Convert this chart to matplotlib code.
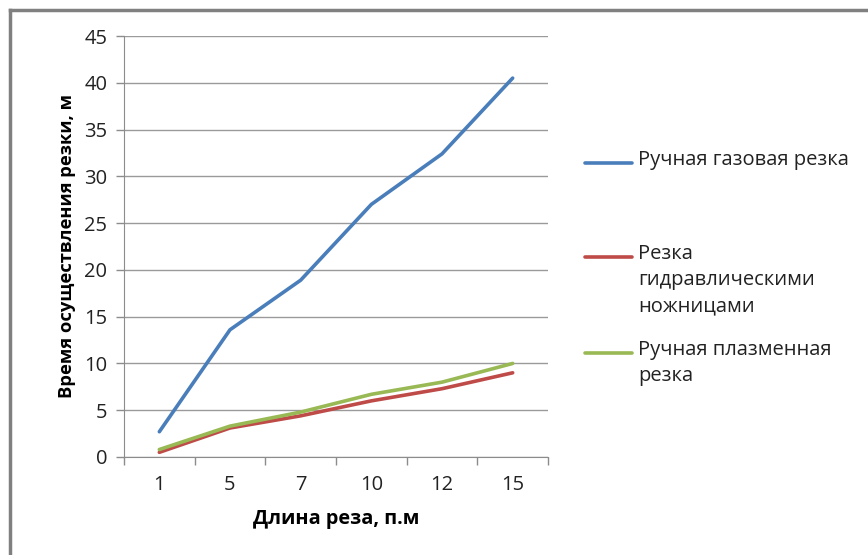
import matplotlib.pyplot as plt
from matplotlib.lines import Line2D
import numpy as np

plt.rcParams['font.family'] = ['Open Sans', 'DejaVu Sans']

lengths = ['1', '5', '7', '10', '12', '15']
gas = [2.7, 13.6, 18.9, 27.0, 32.4, 40.5]
hydraulic = [0.5, 3.1, 4.4, 6.0, 7.3, 9.0]
plasma = [0.8, 3.3, 4.8, 6.7, 8.0, 10.0]

labels = ['Ручная газовая резка',
          'Резка\nгидравлическими\nножницами',
          'Ручная плазменная\nрезка']
colors = ['#4A7EBB', '#BE4B48', '#98B954']

fig = plt.figure(figsize=(8.68, 5.55), dpi=100)
ax = fig.add_axes([124 / 868, 1 - 457 / 555, 424 / 868, 421 / 555])

x = np.arange(len(lengths))
for series, color in zip([gas, hydraulic, plasma], colors):
    ax.plot(x, series, color=color, linewidth=2.6, solid_capstyle='round')

ax.set_xlim(-0.5, len(lengths) - 0.5)
ax.set_ylim(0, 45)
ax.set_yticks(np.arange(0, 46, 5))
ax.set_xticks(x)
ax.set_xticklabels(lengths)
ax.set_xticks(np.arange(-0.5, len(lengths), 1), minor=True)
ax.tick_params(axis='x', which='major', length=0, pad=13, labelsize=14.5, colors='#222222')
ax.tick_params(axis='x', which='minor', length=6, color='#8c8c8c', width=1)
ax.tick_params(axis='y', length=6, width=1, labelsize=14.5, colors='#222222', pad=6)
ax.tick_params(axis='y', color='#8c8c8c')
ax.grid(axis='y', color='#9a9a9a', linewidth=1)
ax.set_axisbelow(True)
for side in ['top', 'right']:
    ax.spines[side].set_visible(False)
for side in ['left', 'bottom']:
    ax.spines[side].set_color('#8c8c8c')

ax.set_xlabel('Длина реза, п.м', fontsize=14.3, fontweight='bold', labelpad=10)
ax.set_ylabel('Время осуществления резки, м', fontsize=13.2, fontweight='bold', labelpad=6)

# legend drawn by hand to keep the handles on the first text line
legend_y = [163, 257, 353]
for label, color, ly in zip(labels, colors, legend_y):
    yy = 1 - ly / 555
    fig.add_artist(Line2D([585 / 868, 632 / 868], [yy, yy], color=color, linewidth=2.6,
                          solid_capstyle='round'))
    fig.text(638 / 868, yy + 13 / 555, label, fontsize=14.5, va='top', ha='left',
             color='#222222', linespacing=1.4)

# outer frame
fig.add_artist(Line2D([10 / 868, 10 / 868], [0, 1 - 10 / 555], color='#808080', linewidth=2.5))
fig.add_artist(Line2D([10 / 868, 1], [1 - 10 / 555, 1 - 10 / 555], color='#808080', linewidth=2.5))

fig.savefig('out.png', dpi=100)
